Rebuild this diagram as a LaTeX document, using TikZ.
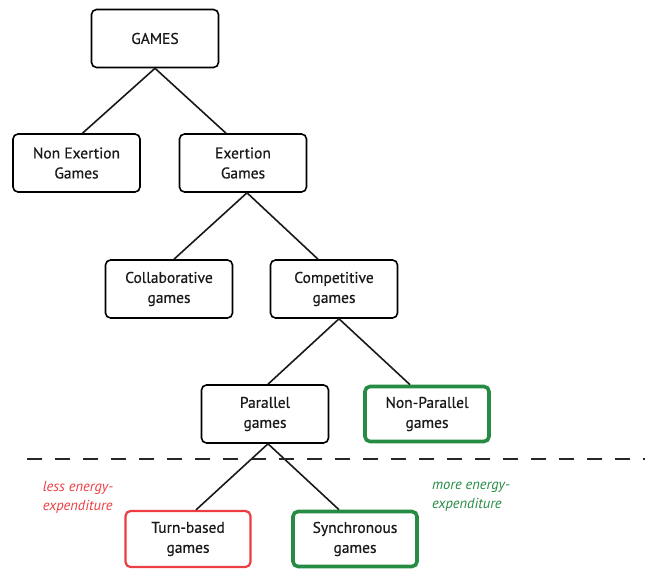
\documentclass[tikz,border=0pt]{standalone}
\usepackage{fontspec}
\setmainfont{PT Sans}
\newfontfamily\boxfont[FakeBold=0.6]{PT Sans}
\definecolor{gamegreen}{RGB}{38,140,68}
\definecolor{gamered}{RGB}{236,62,66}

\begin{document}
\begin{tikzpicture}[x=1pt,y=-1pt,
  box/.style={draw,rounded corners=5pt,line width=1.6pt,minimum width=127pt,
    minimum height=58pt,align=center,inner sep=2pt,
    font=\boxfont\fontsize{15.5}{20}\selectfont,text=black!90},
  greenbox/.style={box,draw=gamegreen,line width=3.6pt,minimum width=124pt,minimum height=55pt},
  redbox/.style={box,draw=gamered,line width=2.2pt,minimum width=125pt,minimum height=56pt},
  edge/.style={line width=1.6pt,black!90},
  note/.style={align=left,font=\fontsize{14.5}{19}\selectfont\itshape}]
  \useasboundingbox (0,0) rectangle (645,572);

  % the tree
  \node[box] (games) at (155,38.5) {GAMES};
  \node[box] (nonex) at (76.5,163) {Non Exertion\\Games};
  \node[box] (exer) at (243,163) {Exertion\\Games};
  \node[box] (collab) at (169,289) {Collaborative\\games};
  \node[box] (compet) at (334,289) {Competitive\\games};
  \node[box] (paral) at (265,414) {Parallel\\games};
  \node[greenbox] (nonparal) at (427,414) {Non-Parallel\\games};
  \node[redbox] (turn) at (188,539) {Turn-based\\games};
  \node[greenbox] (sync) at (355,539) {Synchronous\\games};

  \draw[edge] (games.south) -- ([xshift=6pt]nonex.north);
  \draw[edge] (games.south) -- ([xshift=-17pt]exer.north);
  \draw[edge] ([xshift=4pt]exer.south) -- ([xshift=5pt]collab.north);
  \draw[edge] ([xshift=4pt]exer.south) -- ([xshift=-16pt]compet.north);
  \draw[edge] ([xshift=5pt]compet.south) -- ([xshift=3pt]paral.north);
  \draw[edge] ([xshift=5pt]compet.south) -- ([xshift=-17pt]nonparal.north);
  \draw[edge] ([xshift=3pt]paral.south) -- ([xshift=8pt]turn.north);
  \draw[edge] ([xshift=3pt]paral.south) -- ([xshift=-16pt]sync.north);

  % energy split
  \coordinate (cutL) at (27,459);
  \coordinate (cutR) at (645,459);
  \draw[line width=2pt,black!85,dash pattern=on 15pt off 13pt] (cutL) -- (cutR);
  \node[note,text=gamered] (less) at (78,497) {less energy-\\expenditure};
  \node[note,text=gamegreen] (more) at (471,497) {more energy-\\expenditure};
\end{tikzpicture}
\end{document}
